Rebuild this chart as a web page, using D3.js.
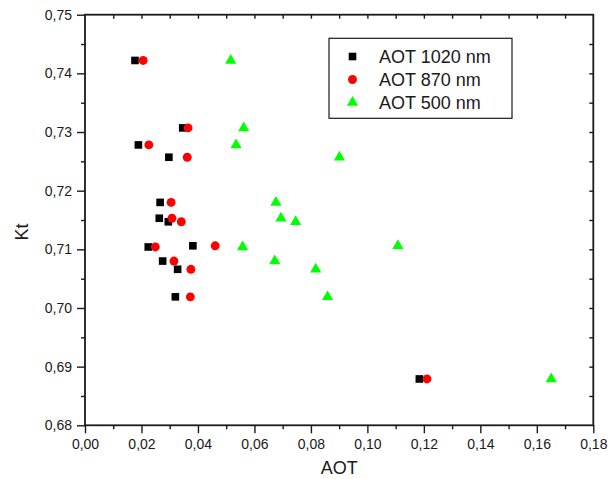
<!DOCTYPE html>
<html>
<head>
<meta charset="utf-8">
<script src="https://cdn.jsdelivr.net/npm/d3@7"></script>
<style>
  html, body { margin: 0; padding: 0; background: #fff; }
  svg { display: block; font-family: "Liberation Sans", Arial, sans-serif; }
</style>
</head>
<body>
<svg id="chart" width="616" height="479"></svg>
<script>
// Clearness index (Kt) against aerosol optical thickness at three wavelengths
const kt      = [0.7422, 0.7307, 0.7278, 0.7257, 0.7180, 0.7153, 0.7147, 0.7104, 0.7106, 0.7080, 0.7066, 0.7019, 0.6879];
const aot1020 = [0.0177, 0.0346, 0.0189, 0.0297, 0.0266, 0.0263, 0.0295, 0.0224, 0.0382, 0.0275, 0.0328, 0.0320, 0.1184];
const aot870  = [0.0206, 0.0365, 0.0226, 0.0362, 0.0305, 0.0308, 0.0341, 0.0249, 0.0461, 0.0315, 0.0375, 0.0373, 0.1211];
const aot500  = [0.0516, 0.0562, 0.0535, 0.0901, 0.0676, 0.0694, 0.0746, 0.0558, 0.1108, 0.0672, 0.0817, 0.0859, 0.1651];

const seriesNames = ["AOT 1020 nm", "AOT 870 nm", "AOT 500 nm"];
const xTicks = [0, 0.02, 0.04, 0.06, 0.08, 0.10, 0.12, 0.14, 0.16, 0.18];
const yTicks = [0.68, 0.69, 0.70, 0.71, 0.72, 0.73, 0.74, 0.75];

const series = [
  { name: seriesNames[0], xs: aot1020, color: "#000000", symbol: d3.symbolSquare,   size: 58 },
  { name: seriesNames[1], xs: aot870,  color: "#ff0000", symbol: d3.symbolCircle,   size: 62 },
  { name: seriesNames[2], xs: aot500,  color: "#00ff00", symbol: d3.symbolTriangle, size: 54 }
];

const plotLeft = 85, plotRight = 593.3, plotTop = 14.7, plotBottom = 425.3;
const svg = d3.select("#chart");

const x = d3.scaleLinear().domain([0, 0.18]).range([plotLeft, plotRight]);
const y = d3.scaleLinear().domain([0.68, 0.75]).range([plotBottom, plotTop]);

const comma = d3.formatLocale({ decimal: ",", thousands: ".", grouping: [3], currency: ["", ""] }).format(".2f");

function minorTicks(lo, hi, step) {
  const out = [];
  for (let v = lo; v <= hi + 1e-9; v += step) out.push(+v.toFixed(4));
  return out;
}
const xMinor = minorTicks(0.01, 0.17, 0.02);
const yMinor = minorTicks(0.685, 0.745, 0.01);

function styleAxis(g, fontSize) {
  g.select(".domain").remove();
  g.selectAll(".tick line").attr("stroke", "#1a1a1a").attr("stroke-width", 1.4);
  g.selectAll(".tick text").attr("fill", "#1a1a1a").style("font-size", fontSize + "px")
    .style("font-family", "\"Liberation Sans\", Arial, sans-serif");
}

// bottom axis: major and minor ticks pointing outward
const gx = svg.append("g").attr("transform", `translate(0,${plotBottom})`)
  .call(d3.axisBottom(x).tickValues(xTicks).tickFormat(comma).tickSize(8).tickPadding(6));
styleAxis(gx, 14);
svg.append("g").attr("transform", `translate(0,${plotBottom})`)
  .call(d3.axisBottom(x).tickValues(xMinor).tickFormat("").tickSize(4))
  .call(g => styleAxis(g, 14));

// left axis
const gy = svg.append("g").attr("transform", `translate(${plotLeft},0)`)
  .call(d3.axisLeft(y).tickValues(yTicks).tickFormat(comma).tickSize(8).tickPadding(5));
styleAxis(gy, 14);
svg.append("g").attr("transform", `translate(${plotLeft},0)`)
  .call(d3.axisLeft(y).tickValues(yMinor).tickFormat("").tickSize(4))
  .call(g => styleAxis(g, 14));

// top and right axes: inward ticks, no labels
svg.append("g").attr("transform", `translate(0,${plotTop})`)
  .call(d3.axisTop(x).tickValues(minorTicks(0.01, 0.17, 0.01)).tickFormat("").tickSize(-4))
  .call(g => styleAxis(g, 14));
svg.append("g").attr("transform", `translate(${plotRight},0)`)
  .call(d3.axisRight(y).tickValues(minorTicks(0.685, 0.745, 0.005)).tickFormat("").tickSize(-4))
  .call(g => styleAxis(g, 14));

// frame
svg.append("rect")
  .attr("x", plotLeft).attr("y", plotTop)
  .attr("width", plotRight - plotLeft).attr("height", plotBottom - plotTop)
  .attr("fill", "none").attr("stroke", "#1a1a1a").attr("stroke-width", 1.8);

// markers
series.forEach(s => {
  svg.append("g").selectAll("path")
    .data(kt.map((k, i) => ({ xv: s.xs[i], yv: k })))
    .join("path")
    .attr("transform", d => `translate(${x(d.xv)},${y(d.yv)})`)
    .attr("d", d3.symbol().type(s.symbol).size(s.size))
    .attr("fill", s.color);
});

// axis titles
svg.append("text")
  .attr("x", (plotLeft + plotRight) / 2).attr("y", 474)
  .attr("text-anchor", "middle").attr("fill", "#1a1a1a")
  .style("font-size", "18px").text("AOT");
svg.append("text")
  .attr("transform", "translate(28,232) rotate(-90)")
  .attr("text-anchor", "middle").attr("fill", "#1a1a1a")
  .style("font-size", "18px").text("Kt");

// legend
const legend = svg.append("g");
legend.append("rect")
  .attr("x", 329).attr("y", 38.3).attr("width", 183).attr("height", 80)
  .attr("fill", "#fff").attr("stroke", "#1a1a1a").attr("stroke-width", 1.2);
series.forEach((s, i) => {
  const cy = 56.5 + i * 23;
  legend.append("path")
    .attr("transform", `translate(352.5,${cy})`)
    .attr("d", d3.symbol().type(s.symbol).size(s.size))
    .attr("fill", s.color);
  legend.append("text")
    .attr("x", 379).attr("y", cy + 6.5)
    .attr("fill", "#1a1a1a").style("font-size", "18px")
    .text(s.name);
});
</script>
</body>
</html>
